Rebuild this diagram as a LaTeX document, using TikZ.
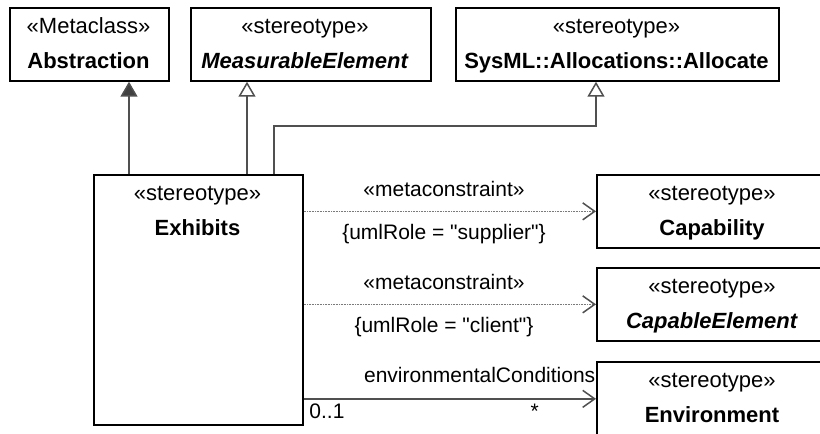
\documentclass[tikz,border=0pt]{standalone}
\usepackage{fontspec}
\setmainfont{Liberation Sans}
\usetikzlibrary{arrows.meta}
\definecolor{conn}{HTML}{505050}
\definecolor{dotc}{HTML}{7A7A7A}
\definecolor{headc}{HTML}{404040}
\tikzset{
  classbox/.style={draw=black, line width=1.7pt, fill=white, inner sep=0pt, anchor=north west},
  txt/.style={inner sep=0pt, anchor=base, font=\fontsize{22}{26}\selectfont},
  genfilled/.style={draw=conn, line width=1.5pt, -{Triangle[length=15pt,width=17pt,fill=headc]}},
  genopen/.style={draw=conn, line width=1.5pt, -{Triangle[length=15pt,width=17pt,fill=white]}},
  depline/.style={draw=dotc, line width=1.5pt, dash pattern=on 1pt off 0.6pt, -{Straight Barb[length=12pt,width=17pt,line width=1.5pt,color=conn]}},
  assocline/.style={draw=conn, line width=1.5pt, -{Straight Barb[length=12pt,width=17pt,line width=1.5pt]}},
  lbl/.style={inner sep=0pt, text=black, font=\fontsize{21}{25}\selectfont}
}
\begin{document}
\begin{tikzpicture}[x=1pt,y=-1pt]
\useasboundingbox (0,0) rectangle (820,434);
\clip (0,0) rectangle (820,434);

% class boxes
\node[classbox, minimum width=159pt, minimum height=73pt] (abs) at (9,7) {};
\node[txt] (absS) at (88.5,33) {«Metaclass»};
\node[txt] (absN) at (88.5,68) {\textbf{Abstraction}};

\node[classbox, minimum width=240pt, minimum height=73pt] (meas) at (190,7) {};
\node[txt] (measS) at (305,33) {«stereotype»};
\node[txt] (measN) at (305,68) {\textbf{\textit{MeasurableElement}}};

\node[classbox, minimum width=323pt, minimum height=73pt] (alloc) at (455,7) {};
\node[txt] (allocS) at (616.5,33) {«stereotype»};
\node[txt] (allocN) at (616.5,68) {\textbf{SysML::Allocations::Allocate}};

\node[classbox, minimum width=209pt, minimum height=250pt] (exh) at (93,174) {};
\node[txt] (exhS) at (197.5,200) {«stereotype»};
\node[txt] (exhN) at (197.5,235) {\textbf{Exhibits}};

\node[classbox, minimum width=232pt, minimum height=73pt] (cap) at (596,174) {};
\node[txt] (capS) at (712,200) {«stereotype»};
\node[txt] (capN) at (712,235) {\textbf{Capability}};

\node[classbox, minimum width=232pt, minimum height=73pt] (capel) at (596,267) {};
\node[txt] (capelS) at (712,293) {«stereotype»};
\node[txt] (capelN) at (712,328) {\textbf{\textit{CapableElement}}};

\node[classbox, minimum width=232pt, minimum height=74pt] (env) at (596,361) {};
\node[txt] (envS) at (712,387) {«stereotype»};
\node[txt] (envN) at (712,422) {\textbf{Environment}};

% generalizations
\coordinate (g1) at (129,0);
\coordinate (g2) at (247,0);
\coordinate (g3) at (274,126);
\coordinate (g4) at (596,126);
\draw[genfilled] (g1 |- exh.north) -- (g1 |- abs.south);
\draw[genopen] (g2 |- exh.north) -- (g2 |- meas.south);
\draw[genopen] (g3 |- exh.north) -- (g3) -- (g4) -- (g4 |- alloc.south);

% metaconstraints
\draw[depline] (exh.east |- cap.west) -- (cap.west)
  node[lbl, pos=0.48, anchor=base, yshift=15pt] (mc1) {«metaconstraint»}
  node[lbl, pos=0.48, anchor=base, yshift=-28pt] (r1) {\{umlRole = \textquotedbl supplier\textquotedbl\}};
\draw[depline] (exh.east |- capel.west) -- (capel.west)
  node[lbl, pos=0.48, anchor=base, yshift=15pt] (mc2) {«metaconstraint»}
  node[lbl, pos=0.48, anchor=base, yshift=-28pt] (r2) {\{umlRole = \textquotedbl client\textquotedbl\}};

% association
\draw[assocline] (exh.east |- env.west) -- (env.west)
  node[lbl, pos=1, anchor=base east, yshift=16pt] (ec) {environmentalConditions}
  node[lbl, pos=0, anchor=base west, xshift=5pt, yshift=-20pt] (m1) {0..1}
  node[lbl, pos=0.79, anchor=base, yshift=-20pt] (m2) {*};
\end{tikzpicture}
\end{document}
